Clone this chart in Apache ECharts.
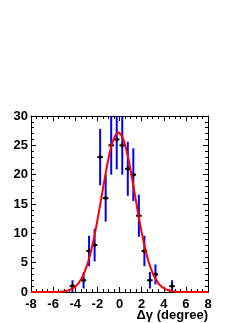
<!DOCTYPE html>
<html>
<head>
<meta charset="utf-8">
<script src="https://cdn.jsdelivr.net/npm/echarts@6/dist/echarts.min.js"></script>
<style>html,body{margin:0;padding:0;background:#fff;}#c{width:249px;height:323px;}</style>
</head>
<body>
<div id="c"></div>
<script>
var binX = [-4.25,-3.25,-2.75,-2.25,-1.75,-1.25,-0.75,-0.25,0.25,0.75,1.25,1.75,2.25,2.75,3.25,4.75];
var binY = [1,2,7,8,23,16,25,26,25,21,20,13,7,2,3,1];
var binErr = [1,1.4,2.6,2.8,4.8,4,5,5.1,5,4.6,4.5,3.6,2.6,1.4,1.7,1];
var binHalf = 0.25;
var fitX = [-8,-7.5,-7,-6.5,-6,-5.5,-5,-4.75,-4.5,-4.25,-4,-3.75,-3.5,-3.25,-3,-2.75,-2.5,-2.25,-2,-1.75,-1.5,-1.25,-1,-0.75,-0.5,-0.25,-0.1,0,0.25,0.5,0.75,1,1.25,1.5,1.75,2,2.25,2.5,2.75,3,3.25,3.5,3.75,4,4.25,4.5,4.75,5,5.5,6,6.5,7,7.5,8];
var fitY = [0,0,0,0,0,0.02,0.13,0.22,0.37,0.59,0.93,1.41,2.08,3.0,4.2,5.72,7.56,9.74,12.2,14.85,17.6,20.27,22.7,24.76,26.2,27.06,27.2,27.1,26.47,25.1,23.17,20.8,18.14,15.4,12.71,10.2,7.97,6.06,4.47,3.2,2.25,1.53,1.01,0.65,0.41,0.25,0.15,0.08,0.02,0,0,0,0,0];
var xTicks = [-8,8,2];
var yTicks = [0,30,5];

var chart = echarts.init(document.getElementById('c'), null, {renderer:'canvas'});
var font = {fontFamily:'Liberation Sans, Arial, sans-serif', fontWeight:'bold', fontSize:13, color:'#000'};
function axisCommon(showLabel, split, margin){
  return {
    axisLine:{show:true, onZero:false, lineStyle:{color:'#000', width:1}},
    axisTick:{show:true, inside:true, length:5, lineStyle:{color:'#000'}},
    minorTick:{show:true, splitNumber:split, length:3, lineStyle:{color:'#000'}},
    splitLine:{show:false},
    axisLabel:Object.assign({show:showLabel, margin:margin}, font)
  };
}
var fitData = fitX.map(function(x,i){return [x, fitY[i]];});
var binData = binX.map(function(x,i){return [x, binY[i], binErr[i]];});

chart.setOption({
  animation:false,
  backgroundColor:'#fff',
  grid:{left:31, top:116, right:41, bottom:31, show:false},
  title:{text:'\u0394\u03b3 (degree)', right:41, top:309, padding:0, textStyle:Object.assign({}, font)},
  xAxis:[
    Object.assign({type:'value', min:xTicks[0], max:xTicks[1], interval:xTicks[2], position:'bottom'}, axisCommon(true,4,6)),
    Object.assign({type:'value', min:xTicks[0], max:xTicks[1], interval:xTicks[2], position:'top'}, axisCommon(false,4,6))
  ],
  yAxis:[
    Object.assign({type:'value', min:yTicks[0], max:yTicks[1], interval:yTicks[2], position:'left'}, axisCommon(true,5,3)),
    Object.assign({type:'value', min:yTicks[0], max:yTicks[1], interval:yTicks[2], position:'right'}, axisCommon(false,5,3))
  ],
  series:[
    {
      type:'custom', clip:true,
      data:binData,
      renderItem:function(params, api){
        var x = api.value(0), y = api.value(1), e = api.value(2);
        var lo = api.coord([x, y - e]), hi = api.coord([x, y + e]);
        var l = api.coord([x - binHalf, y]), r = api.coord([x + binHalf, y]);
        var c = api.coord([x, y]);
        return {type:'group', children:[
          {type:'line', shape:{x1:lo[0], y1:lo[1], x2:hi[0], y2:hi[1]}, style:{stroke:'#0000ff', lineWidth:2}},
          {type:'line', shape:{x1:l[0], y1:l[1], x2:r[0], y2:r[1]}, style:{stroke:'#000', lineWidth:2}},
          {type:'rect', shape:{x:c[0]-1, y:c[1]-2, width:2, height:4}, style:{fill:'#000'}}
        ]};
      },
      z:2
    },
    {
      type:'line', data:fitData, showSymbol:false, smooth:0.3, clip:true,
      lineStyle:{color:'#ff0000', width:2}, z:3
    }
  ]
});
</script>
</body>
</html>
